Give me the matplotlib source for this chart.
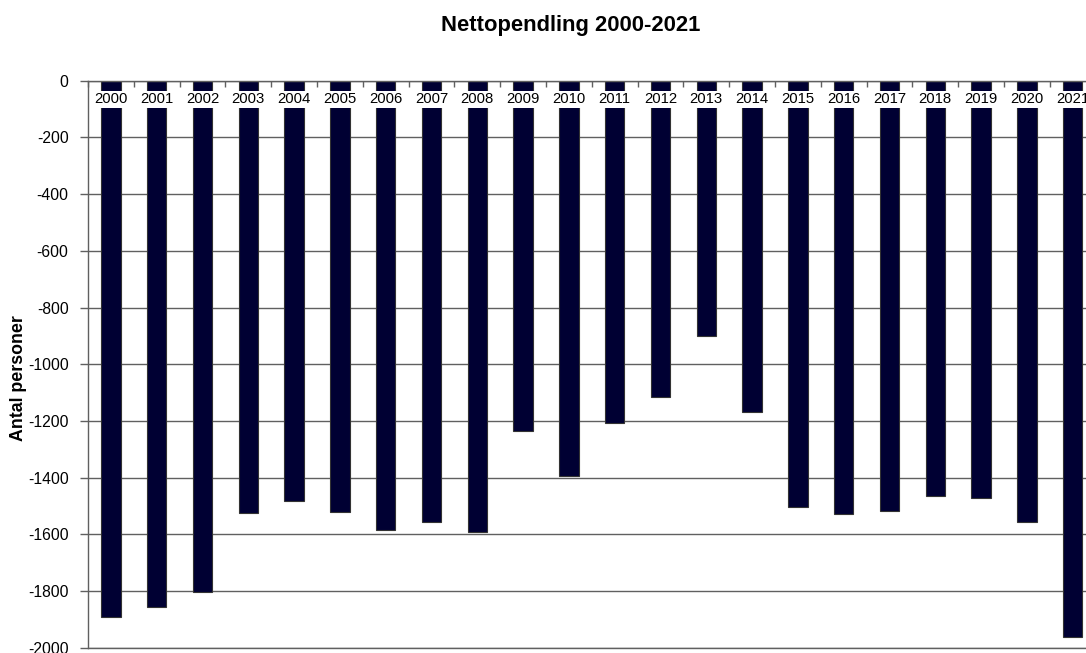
import matplotlib
matplotlib.use("Agg")
import matplotlib.pyplot as plt
import numpy as np

years = [str(y) for y in range(2000, 2022)]
values = [-1890, -1855, -1805, -1526, -1482, -1522, -1585, -1557, -1591, -1235,
          -1393, -1206, -1116, -899, -1170, -1503, -1527, -1517, -1464, -1472,
          -1558, -1963]
yticks = list(range(0, -2001, -200))
title = "Nettopendling 2000-2021"
ylabel = "Antal personer"

plt.rcParams['font.family'] = ['Liberation Sans', 'DejaVu Sans']
plt.rcParams['axes.unicode_minus'] = False

W, H = 1086, 653
fig = plt.figure(figsize=(W / 100, H / 100), dpi=100)
ax = fig.add_axes([88 / W, 1 - 647.7 / H, 1007.6 / W, (647.7 - 80.7) / H])

x = np.arange(len(years))
ax.bar(x, values, width=0.42, color='#000033', edgecolor='#333333', linewidth=0.8, zorder=2)

ax.set_xlim(-0.5, len(years) - 0.5)
ax.set_ylim(-2000, 0)
ax.set_yticks(yticks)
ax.set_yticklabels([str(v) for v in yticks], fontsize=11.3)
ax.tick_params(axis='y', direction='out', length=6, width=1, color='#606060', pad=8)
ax.grid(axis='y', color='#606060', linewidth=1, zorder=0)
ax.set_axisbelow(True)

ax.xaxis.tick_top()
ax.set_xticks(np.arange(-0.5, len(years), 1.0))
ax.set_xticklabels([])
ax.tick_params(axis='x', direction='in', length=4, width=1, color='#606060')

for s in ['left', 'top', 'bottom']:
    ax.spines[s].set_color('#606060')
    ax.spines[s].set_linewidth(1)
ax.spines['right'].set_visible(False)

for xi, lab in zip(x, years):
    ax.annotate(lab, xy=(xi, 0), xytext=(0, -13.5), textcoords='offset points',
                ha='center', va='center', fontsize=10.7, zorder=5,
                bbox=dict(boxstyle='square,pad=0.08', facecolor='white', edgecolor='none'))

fig.text(571 / W, 1 - 26 / H, title, ha='center', va='center', fontsize=15.8, fontweight='bold')
fig.text(19 / W, 1 - 378 / H, ylabel, ha='center', va='center', rotation=90,
         fontsize=12.8, fontweight='bold')

fig.savefig('out.png', dpi=100)
